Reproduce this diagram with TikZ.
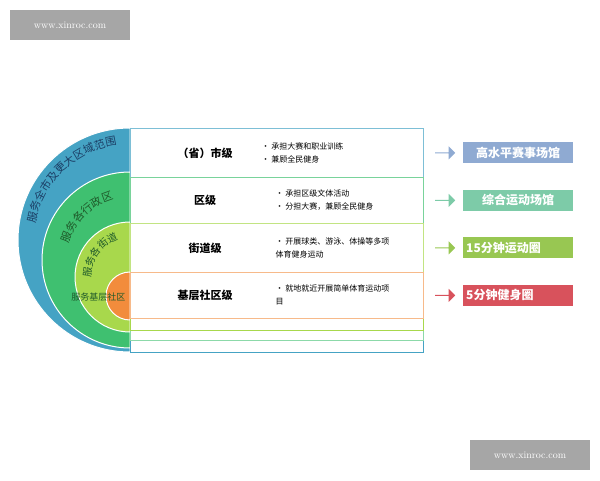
\documentclass[tikz,border=0pt]{standalone}
\usepackage{fontspec}
\newfontfamily\cjk{Noto Sans CJK SC}
\usetikzlibrary{positioning,shapes.arrows,decorations.text}
\definecolor{ringblue}{HTML}{45A3C4}
\definecolor{ringgreen}{HTML}{3FC070}
\definecolor{ringlime}{HTML}{A8D84C}
\definecolor{ringorange}{HTML}{F28C3C}
\definecolor{boxblue}{HTML}{8FAAD2}
\definecolor{boxteal}{HTML}{7DCBA8}
\definecolor{boxlime}{HTML}{98C752}
\definecolor{boxred}{HTML}{D8525C}
\definecolor{darkgreen}{HTML}{1F5A2A}
\definecolor{darkblue}{HTML}{1C3F66}
\tikzset{
  row/.style={draw=#1, line width=0.8pt, fill=white, minimum width=293pt, anchor=north west, inner sep=0pt},
  level/.style={font=\cjk\bfseries\fontsize{11}{13}\selectfont},
  bullets/.style={font=\cjk\fontsize{8}{13}\selectfont, align=left, anchor=west},
  goal/.style={fill=#1, text=white, font=\cjk\bfseries\fontsize{12}{14}\selectfont, minimum width=110pt, minimum height=21pt, inner sep=0pt},
  fat/.style={single arrow, fill=#1, minimum width=13pt, single arrow head extend=2.5pt, minimum height=20pt, inner sep=0pt},
  stamp/.style={fill=gray!70, text=white, font=\fontsize{10}{12}\selectfont, minimum width=120pt, minimum height=30pt}
}
\begin{document}
\begin{tikzpicture}[x=1pt, y=1pt]
  \useasboundingbox (0,0) rectangle (600,480);

  % nested half rings
  \fill[ringblue, draw=white, line width=1pt] (130,352) arc (90:270:112) -- cycle;
  \fill[ringgreen, draw=white, line width=1pt] (130,308) arc (90:270:88) -- cycle;
  \fill[ringlime, draw=white, line width=1pt] (130,258) arc (90:270:55) -- cycle;
  \fill[ringorange, draw=white, line width=1pt] (130,208) arc (90:270:24) -- cycle;

  % curved ring labels
  \path[decorate, decoration={text along path, text align=center,
    text={|\cjk\fontsize{11}{11}\selectfont\color{darkblue}|服务全市及更大区域范围}}]
    (130,240) ++(178:96) arc (178:90:96);
  \path[decorate, decoration={text along path, text align=center,
    text={|\cjk\fontsize{11}{11}\selectfont\color{darkgreen}|服务各行政区}}]
    (130,220) ++(172:63) arc (172:98:63);
  \path[decorate, decoration={text along path, text align=center,
    text={|\cjk\fontsize{10}{10}\selectfont\color{darkgreen}|服务各街道}}]
    (130,203) ++(190:39) arc (190:98:39);
  \node[font=\cjk\fontsize{9}{10}\selectfont, text=darkgreen, anchor=east] (base) at (129,183) {服务基层社区};

  % table rows
  \node[row=ringblue, minimum height=12pt] (s3) at (130,140) {};
  \node[row=ringgreen!60, minimum height=10pt] (s2) at (130,150) {};
  \node[row=ringlime, minimum height=12pt] (s1) at (130,162) {};
  \node[row=ringblue!70, minimum height=49pt] (r1) at (130,352) {};
  \node[row=ringgreen!70, minimum height=46pt] (r2) at (130,303) {};
  \node[row=ringlime!70, minimum height=49pt] (r3) at (130,257) {};
  \node[row=ringorange!60, minimum height=46pt] (r4) at (130,208) {};

  \node[level] (l1) at (205,0 |- r1) {（省）市级};
  \node[level] (l2) at (205,0 |- r2) {区级};
  \node[level] (l3) at (205,0 |- r3) {街道级};
  \node[level] (l4) at (205,0 |- r4) {基层社区级};

  \node[bullets] (b1) at (258,0 |- r1) {• 承担大赛和职业训练\\• 兼顾全民健身};
  \node[bullets] (b2) at (272,0 |- r2) {• 承担区级文体活动\\• 分担大赛，兼顾全民健身};
  \node[bullets] (b3) at (272,0 |- r3) {• 开展球类、游泳、体操等多项\\体育健身运动};
  \node[bullets] (b4) at (272,0 |- r4) {• 就地就近开展简单体育运动项\\目};

  % arrows and goals
  \node[goal=boxblue] (g1) at (518,0 |- r1) {高水平赛事场馆};
  \node[goal=boxteal] (g2) at (518,0 |- r2) {综合运动场馆};
  \node[goal=boxlime, anchor=west, minimum width=0pt, text width=110pt] (g3) at (463,0 |- r3) {\hspace{3pt}15分钟运动圈};
  \node[goal=boxred, anchor=west, minimum width=0pt, text width=110pt] (g4) at (463,0 |- r4) {\hspace{3pt}5分钟健身圈};

  \node[fat=boxblue] (a1) at (445,0 |- r1) {};
  \node[fat=boxteal] (a2) at (445,0 |- r2) {};
  \node[fat=boxlime] (a3) at (445,0 |- r3) {};
  \node[fat=boxred] (a4) at (445,0 |- r4) {};

  % watermarks
  \node[stamp] (m1) at (70,455) {www.xinroc.com};
  \node[stamp] (m2) at (530,25) {www.xinroc.com};
\end{tikzpicture}
\end{document}
